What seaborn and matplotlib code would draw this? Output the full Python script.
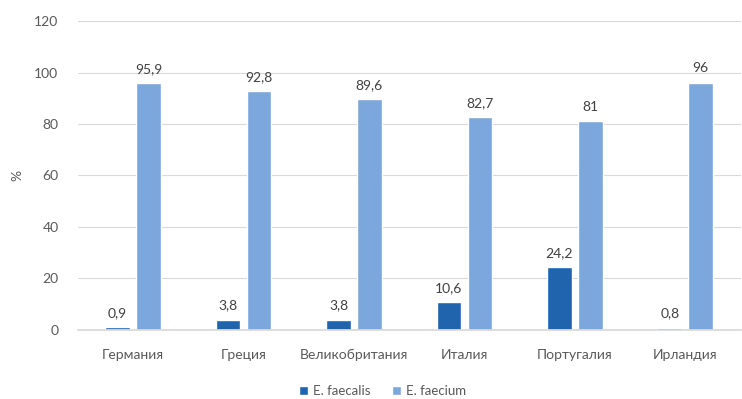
import matplotlib
matplotlib.use("Agg")
import matplotlib.pyplot as plt
import pandas as pd
import seaborn as sns

countries = ["Германия", "Греция", "Великобритания", "Италия", "Португалия", "Ирландия"]
faecalis = [0.9, 3.8, 3.8, 10.6, 24.2, 0.8]
faecium = [95.9, 92.8, 89.6, 82.7, 81, 96]
series = ["E. faecalis", "E. faecium"]
yticks = [0, 20, 40, 60, 80, 100, 120]

COLORS = ["#1f64ad", "#7ba7dc"]
TEXT = "#595959"

df = pd.DataFrame({
    "country": countries * 2,
    "species": [series[0]] * len(countries) + [series[1]] * len(countries),
    "value": faecalis + faecium,
})

sns.set_theme(style="white")
plt.rcParams["font.family"] = ["Lato", "DejaVu Sans"]

fig = plt.figure(figsize=(7.42, 3.99), dpi=100)
ax = fig.add_axes([0.105, 0.174, 0.893, 0.773])

sns.barplot(data=df, x="country", y="value", hue="species", order=countries,
            hue_order=series, palette=COLORS, width=0.56, gap=0.2,
            saturation=1, errorbar=None, ax=ax, legend=True)

for cont in ax.containers:
    labels = [f"{v:g}".replace(".", ",") for v in cont.datavalues]
    ax.bar_label(cont, labels=labels, padding=6, fontsize=10, color="#404040")

ax.set_ylim(0, 120)
ax.set_yticks(yticks)
ax.set_xlim(-0.5, len(countries) - 0.5)
ax.grid(axis="y", color="#d9d9d9", linewidth=0.8)
ax.set_axisbelow(True)
for s in ["top", "right", "left"]:
    ax.spines[s].set_visible(False)
ax.spines["bottom"].set_color("#d9d9d9")
ax.tick_params(axis="both", length=0, colors=TEXT, labelsize=10)
ax.tick_params(axis="x", pad=14)
ax.tick_params(axis="y", pad=14)
ax.set_xlabel("")
ax.set_ylabel("%", color=TEXT, fontsize=10, labelpad=8)

handles, lbls = ax.get_legend_handles_labels()
ax.legend(handles, lbls, loc="center", bbox_to_anchor=(0.46, -0.2),
          ncol=2, frameon=False, fontsize=9.5, handlelength=0.7, handleheight=0.7,
          columnspacing=1.6, handletextpad=0.4, labelcolor=TEXT)

fig.savefig("out.png", dpi=100)
